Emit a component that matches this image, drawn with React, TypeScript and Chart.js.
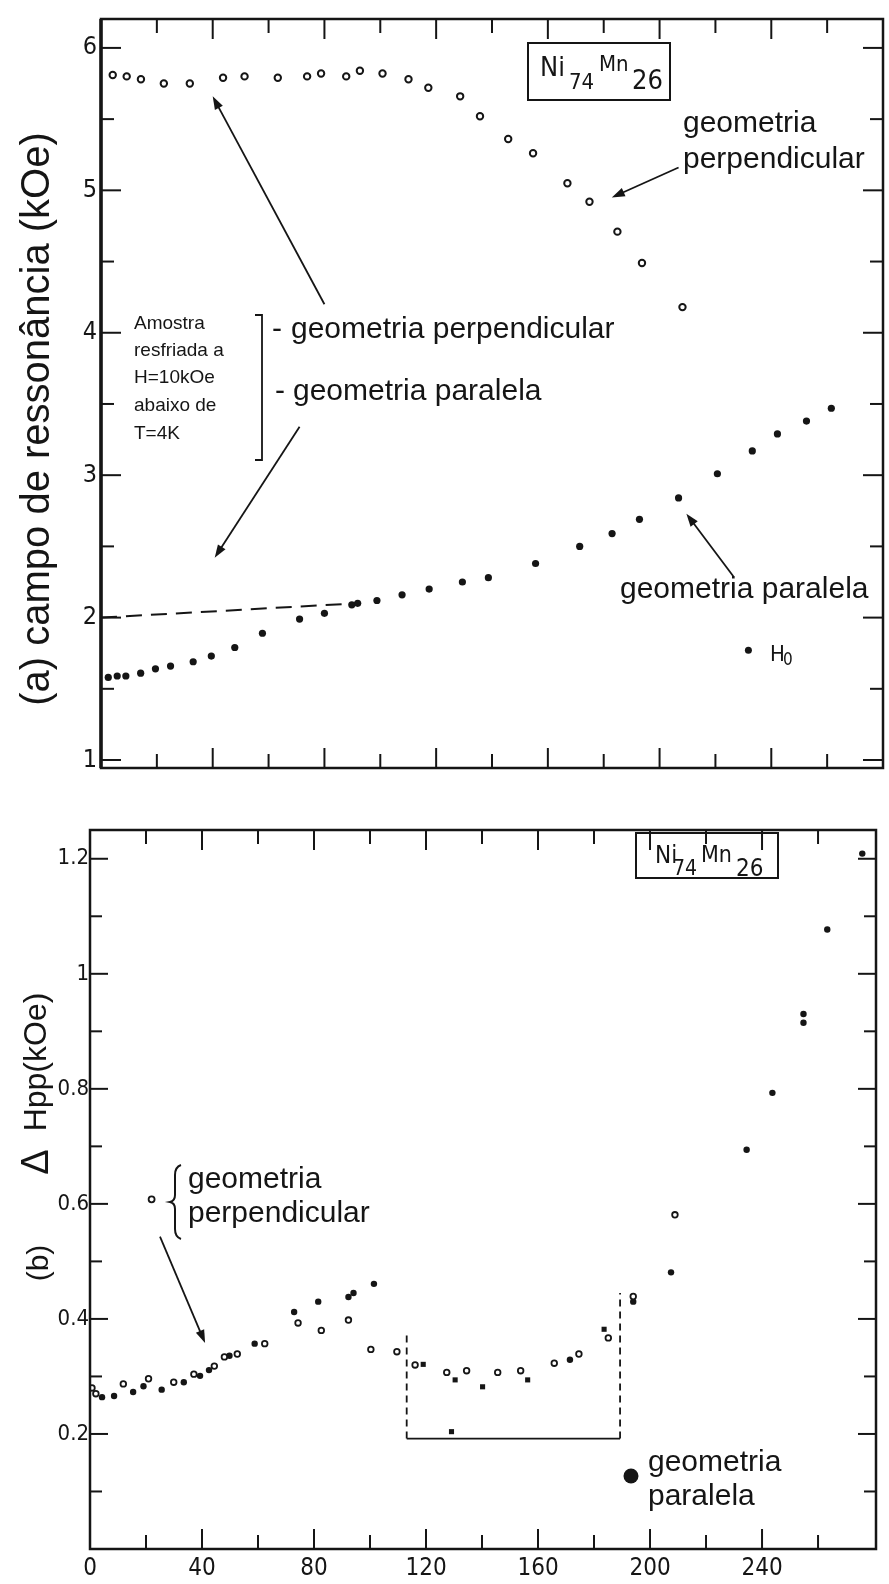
import React, { useEffect, useRef } from 'react';
import { Chart, registerables } from 'chart.js';

Chart.register(...registerables);

// ---------------- Panel (a): campo de ressonância (kOe) vs T (K) ----------------
const tempPerpA = [4.2, 9.2, 14.3, 22.5, 31.8, 43.7, 51.4, 63.3, 73.8, 78.8, 87.8, 92.7, 100.8, 110.1, 117.2, 128.6, 135.7, 145.8, 154.7, 167.0, 174.9, 184.9, 193.7, 208.2];
const campoPerpA = [5.81, 5.8, 5.78, 5.75, 5.75, 5.79, 5.8, 5.79, 5.8, 5.82, 5.8, 5.84, 5.82, 5.78, 5.72, 5.66, 5.52, 5.36, 5.26, 5.05, 4.92, 4.71, 4.49, 4.18];
const tempParA = [2.6, 5.8, 8.9, 14.2, 19.5, 24.9, 33.0, 39.5, 47.9, 57.8, 71.1, 80.0, 89.8, 91.9, 98.8, 107.8, 117.5, 129.4, 138.7, 155.6, 171.4, 183.0, 192.8, 206.8, 220.7, 233.2, 242.2, 252.6, 261.5];
const campoParA = [1.58, 1.59, 1.59, 1.61, 1.64, 1.66, 1.69, 1.73, 1.79, 1.89, 1.99, 2.03, 2.09, 2.1, 2.12, 2.16, 2.2, 2.25, 2.28, 2.38, 2.5, 2.59, 2.69, 2.84, 3.01, 3.17, 3.29, 3.38, 3.47];
const tempDashA = [0, 91.3];
const campoDashA = [2.0, 2.1];
const yLabelsA = [1, 2, 3, 4, 5, 6];
const yTickMarksA = [1, 1.5, 2, 2.5, 3, 3.5, 4, 4.5, 5, 5.5, 6];

// ---------------- Panel (b): ΔHpp (kOe) vs T (K) ----------------
const tempPerpB = [0.7, 2.1, 11.9, 20.9, 29.9, 37.1, 44.4, 48.0, 52.6, 62.4, 74.3, 82.6, 92.3, 100.3, 109.6, 116.1, 127.4, 134.5, 145.6, 153.8, 165.8, 174.6, 185.1, 194.0, 208.9];
const largPerpB = [0.28, 0.27, 0.287, 0.296, 0.29, 0.304, 0.318, 0.334, 0.339, 0.357, 0.393, 0.38, 0.398, 0.347, 0.343, 0.32, 0.307, 0.31, 0.307, 0.31, 0.323, 0.339, 0.367, 0.439, 0.581];
const tempParB = [4.3, 8.6, 15.4, 19.1, 25.6, 33.5, 39.3, 42.5, 49.8, 58.8, 72.9, 81.5, 92.3, 94.1, 101.4, 171.4, 194.0, 207.5, 234.5, 243.7, 254.8, 254.8, 263.3, 275.8];
const largParB = [0.264, 0.266, 0.273, 0.283, 0.277, 0.29, 0.301, 0.311, 0.336, 0.357, 0.412, 0.43, 0.438, 0.445, 0.461, 0.329, 0.43, 0.481, 0.694, 0.793, 0.93, 0.915, 1.077, 1.209];
const tempQuadB = [119.0, 129.1, 130.4, 140.2, 156.3, 183.6];
const largQuadB = [0.321, 0.204, 0.294, 0.282, 0.294, 0.382];
const xLabelsB = [0, 40, 80, 120, 160, 200, 240];
const yLabelsB = [0.2, 0.4, 0.6, 0.8, 1, 1.2];
const yTickMarksB = [0.1, 0.2, 0.3, 0.4, 0.5, 0.6, 0.7, 0.8, 0.9, 1.0, 1.1, 1.2];
const xTickMarks = [20, 40, 60, 80, 100, 120, 140, 160, 180, 200, 220, 240, 260];

const INK = '#151515';
const FONT = '"Liberation Sans", Arial, sans-serif';
const NARROW = '"Liberation Sans Narrow", "DejaVu Sans Condensed", sans-serif';
const LETTER = '"DejaVu Sans Condensed", "Liberation Sans Narrow", sans-serif';

const zip = (xs: number[], ys: number[]) => xs.map((x, i) => ({ x, y: ys[i] }));

function seg(ctx: CanvasRenderingContext2D, x1: number, y1: number, x2: number, y2: number) {
  ctx.beginPath();
  ctx.moveTo(x1, y1);
  ctx.lineTo(x2, y2);
  ctx.stroke();
}

function arrow(ctx: CanvasRenderingContext2D, x1: number, y1: number, x2: number, y2: number) {
  const head = 13;
  const w = 4.5;
  const a = Math.atan2(y2 - y1, x2 - x1);
  ctx.lineWidth = 1.8;
  seg(ctx, x1, y1, x2 - 6 * Math.cos(a), y2 - 6 * Math.sin(a));
  ctx.beginPath();
  ctx.moveTo(x2, y2);
  ctx.lineTo(x2 - head * Math.cos(a) + w * Math.sin(a), y2 - head * Math.sin(a) - w * Math.cos(a));
  ctx.lineTo(x2 - head * Math.cos(a) - w * Math.sin(a), y2 - head * Math.sin(a) + w * Math.cos(a));
  ctx.closePath();
  ctx.fill();
}

function text(ctx: CanvasRenderingContext2D, s: string, x: number, y: number, font: string) {
  ctx.font = font;
  ctx.fillText(s, x, y);
}

function rotText(ctx: CanvasRenderingContext2D, s: string, cx: number, cy: number, font: string) {
  ctx.save();
  ctx.translate(cx, cy);
  ctx.rotate(-Math.PI / 2);
  ctx.font = font;
  ctx.textAlign = 'center';
  ctx.textBaseline = 'middle';
  ctx.fillText(s, 0, 0);
  ctx.restore();
}

const panelAPlugin = {
  id: 'panelA',
  afterDraw(chart: any) {
    const ctx: CanvasRenderingContext2D = chart.ctx;
    const X = (v: number) => chart.scales.x.getPixelForValue(v);
    const Y = (v: number) => chart.scales.y.getPixelForValue(v);
    const { left, right, top, bottom } = chart.chartArea;
    ctx.save();
    ctx.strokeStyle = INK;
    ctx.fillStyle = INK;
    ctx.lineWidth = 2.5;
    ctx.strokeRect(left, top, right - left, bottom - top);
    ctx.lineWidth = 3.5;
    seg(ctx, left, top, left, bottom);
    ctx.lineWidth = 2;
    xTickMarks.forEach((v) => {
      const l = v % 40 === 0 ? 20 : 14;
      seg(ctx, X(v), top, X(v), top + l);
      seg(ctx, X(v), bottom, X(v), bottom - l);
    });
    yTickMarksA.forEach((v) => {
      const l = Number.isInteger(v) ? 20 : 13;
      seg(ctx, left, Y(v), left + l, Y(v));
      seg(ctx, right, Y(v), right - l, Y(v));
    });

    // axis title
    rotText(ctx, '(a) campo de ressonância (kOe)', 38, 419, `40px ${FONT}`);

    // composition box
    ctx.lineWidth = 2;
    ctx.strokeRect(528, 43, 142, 57);
    text(ctx, 'Ni', 540, 76, `27px ${LETTER}`);
    text(ctx, '74', 569, 89, `22px ${LETTER}`);
    text(ctx, 'Mn', 599, 71, `22px ${LETTER}`);
    text(ctx, '26', 632, 89, `27px ${LETTER}`);

    // annotations
    const big = `30px ${FONT}`;
    text(ctx, 'geometria', 683, 132, big);
    text(ctx, 'perpendicular', 683, 168, big);
    text(ctx, '-', 272, 338, big);
    text(ctx, 'geometria perpendicular', 291, 338, big);
    text(ctx, '-', 275, 400, big);
    text(ctx, 'geometria paralela', 293, 400, big);
    text(ctx, 'geometria paralela', 620, 598, big);

    const small = `19px ${FONT}`;
    text(ctx, 'Amostra', 134, 329, small);
    text(ctx, 'resfriada a', 134, 356, small);
    text(ctx, 'H=10kOe', 134, 383, small);
    text(ctx, 'abaixo de', 134, 411, small);
    text(ctx, 'T=4K', 134, 439, small);

    ctx.lineWidth = 1.8;
    ctx.beginPath();
    ctx.moveTo(255, 315);
    ctx.lineTo(262, 315);
    ctx.lineTo(262, 460);
    ctx.lineTo(255, 460);
    ctx.stroke();

    arrow(ctx, X(80), Y(4.2), X(40), Y(5.66));
    arrow(ctx, X(206.8), Y(5.16), X(182.9), Y(4.95));
    arrow(ctx, X(71.1), Y(3.34), X(40.7), Y(2.42));
    arrow(ctx, X(226.4), Y(2.29), X(209.6), Y(2.73));

    // H0 legend
    ctx.beginPath();
    ctx.arc(X(231.8), Y(1.77), 3.5, 0, Math.PI * 2);
    ctx.fill();
    text(ctx, 'H', 770, 661, `22px ${NARROW}`);
    text(ctx, '0', 783, 665, `17px ${NARROW}`);
    ctx.restore();
  },
};

const panelBPlugin = {
  id: 'panelB',
  afterDraw(chart: any) {
    const ctx: CanvasRenderingContext2D = chart.ctx;
    const X = (v: number) => chart.scales.x.getPixelForValue(v);
    const Y = (v: number) => chart.scales.y.getPixelForValue(v);
    const { left, right, top, bottom } = chart.chartArea;
    ctx.save();
    ctx.strokeStyle = INK;
    ctx.fillStyle = INK;
    ctx.lineWidth = 2.5;
    ctx.strokeRect(left, top, right - left, bottom - top);
    ctx.lineWidth = 2;
    xTickMarks.forEach((v) => {
      const l = v % 40 === 0 ? 20 : 14;
      seg(ctx, X(v), top, X(v), top + l);
      seg(ctx, X(v), bottom, X(v), bottom - l);
    });
    yTickMarksB.forEach((v) => {
      const l = Math.round(v * 10) % 2 === 0 ? 18 : 12;
      seg(ctx, left, Y(v), left + l, Y(v));
      seg(ctx, right, Y(v), right - l, Y(v));
    });

    // axis title
    rotText(ctx, '(b)', 40, 463, `30px ${FONT}`);
    rotText(ctx, 'Δ', 38, 362, `38px ${FONT}`);
    rotText(ctx, 'Hpp(kOe)', 37, 262, `32px ${FONT}`);

    // composition box
    ctx.lineWidth = 2;
    ctx.strokeRect(636, 33, 142, 45);
    text(ctx, 'Ni', 655, 63, `24px ${LETTER}`);
    text(ctx, '74', 673, 75, `21px ${LETTER}`);
    text(ctx, 'Mn', 701, 62, `23px ${LETTER}`);
    text(ctx, '26', 736, 76, `24px ${LETTER}`);

    const big = `30px ${FONT}`;
    // perpendicular legend
    ctx.lineWidth = 1.8;
    ctx.beginPath();
    ctx.arc(X(22.0), Y(0.608), 3, 0, Math.PI * 2);
    ctx.fillStyle = '#fff';
    ctx.fill();
    ctx.stroke();
    ctx.fillStyle = INK;
    ctx.lineWidth = 2;
    ctx.beginPath();
    ctx.moveTo(181, 365);
    ctx.quadraticCurveTo(175, 367, 175, 375);
    ctx.lineTo(175, 395);
    ctx.quadraticCurveTo(175, 401, 170, 402);
    ctx.quadraticCurveTo(175, 403, 175, 409);
    ctx.lineTo(175, 429);
    ctx.quadraticCurveTo(175, 437, 181, 439);
    ctx.stroke();
    text(ctx, 'geometria', 188, 388, big);
    text(ctx, 'perpendicular', 188, 422, big);
    arrow(ctx, X(25), Y(0.543), X(41.1), Y(0.358));

    // parallel legend
    ctx.beginPath();
    ctx.arc(X(193.2), Y(0.127), 7.5, 0, Math.PI * 2);
    ctx.fill();
    text(ctx, 'geometria', 648, 671, big);
    text(ctx, 'paralela', 648, 705, big);

    // dashed bracket
    ctx.lineWidth = 1.8;
    ctx.setLineDash([7, 5]);
    seg(ctx, X(113.1), Y(0.192), X(113.1), Y(0.375));
    seg(ctx, X(189.3), Y(0.192), X(189.3), Y(0.445));
    ctx.setLineDash([]);
    seg(ctx, X(113.1), Y(0.192), X(189.3), Y(0.192));
    ctx.restore();
  },
};

const hideGrid = { display: false, drawTicks: false };

export default function App() {
  const refA = useRef<HTMLCanvasElement>(null);
  const refB = useRef<HTMLCanvasElement>(null);

  useEffect(() => {
    const chartA = new Chart(refA.current as HTMLCanvasElement, {
      type: 'scatter',
      data: {
        datasets: [
          {
            label: 'perpendicular',
            data: zip(tempPerpA, campoPerpA),
            pointStyle: 'circle',
            pointRadius: 3.2,
            pointBorderWidth: 2,
            pointBackgroundColor: '#fff',
            pointBorderColor: INK,
          },
          {
            label: 'paralela',
            data: zip(tempParA, campoParA),
            pointStyle: 'circle',
            pointRadius: 3.6,
            pointBorderWidth: 0,
            pointBackgroundColor: INK,
            pointBorderColor: INK,
          },
          {
            label: 'extrapolação',
            data: zip(tempDashA, campoDashA),
            showLine: true,
            borderColor: INK,
            borderWidth: 2,
            borderDash: [16, 9],
            pointRadius: 0,
          },
        ],
      },
      options: {
        animation: false,
        responsive: false,
        events: [],
        layout: { padding: { left: 0, right: 4, top: 16, bottom: 32 } },
        plugins: { legend: { display: false }, tooltip: { enabled: false } },
        scales: {
          x: { type: 'linear', min: 0, max: 280, display: false },
          y: {
            type: 'linear',
            min: 0.944,
            max: 6.203,
            grid: hideGrid,
            border: { display: false },
            afterFit: (s: any) => {
              s.width = 101;
            },
            afterBuildTicks: (s: any) => {
              s.ticks = yLabelsA.map((v) => ({ value: v }));
            },
            ticks: { color: INK, padding: 4, font: { family: NARROW, size: 25 } },
          },
        },
      },
      plugins: [panelAPlugin],
    } as any);

    const chartB = new Chart(refB.current as HTMLCanvasElement, {
      type: 'scatter',
      data: {
        datasets: [
          {
            label: 'perpendicular',
            data: zip(tempPerpB, largPerpB),
            pointStyle: 'circle',
            pointRadius: 2.8,
            pointBorderWidth: 1.8,
            pointBackgroundColor: '#fff',
            pointBorderColor: INK,
          },
          {
            label: 'paralela',
            data: zip(tempParB, largParB),
            pointStyle: 'circle',
            pointRadius: 3.2,
            pointBorderWidth: 0,
            pointBackgroundColor: INK,
            pointBorderColor: INK,
          },
          {
            label: 'quadrados',
            data: zip(tempQuadB, largQuadB),
            pointStyle: 'rect',
            pointRadius: 3.6,
            pointBorderWidth: 0,
            pointBackgroundColor: INK,
            pointBorderColor: INK,
          },
        ],
      },
      options: {
        animation: false,
        responsive: false,
        events: [],
        layout: { padding: { left: 0, right: 13, top: 30, bottom: 0 } },
        plugins: { legend: { display: false }, tooltip: { enabled: false } },
        scales: {
          x: {
            type: 'linear',
            min: 0,
            max: 280.7,
            grid: hideGrid,
            border: { display: false },
            afterFit: (s: any) => {
              s.height = 35;
            },
            afterBuildTicks: (s: any) => {
              s.ticks = xLabelsB.map((v) => ({ value: v }));
            },
            ticks: { color: INK, padding: 5, maxRotation: 0, font: { family: NARROW, size: 24 } },
          },
          y: {
            type: 'linear',
            min: 0,
            max: 1.25,
            grid: hideGrid,
            border: { display: false },
            afterFit: (s: any) => {
              s.width = 90;
            },
            afterBuildTicks: (s: any) => {
              s.ticks = yLabelsB.map((v) => ({ value: v }));
            },
            ticks: {
              color: INK,
              padding: 1,
              font: { family: NARROW, size: 22 },
              callback: (v: any) => String(Number(Number(v).toFixed(1))),
            },
          },
        },
      },
      plugins: [panelBPlugin],
    } as any);

    return () => {
      chartA.destroy();
      chartB.destroy();
    };
  }, []);

  return (
    <div style={{ position: 'absolute', left: 0, top: 0, width: 889, height: 1584, background: '#fff' }}>
      <canvas ref={refA} width={889} height={800} style={{ position: 'absolute', left: 0, top: 0, width: 889, height: 800 }} />
      <canvas ref={refB} width={889} height={784} style={{ position: 'absolute', left: 0, top: 800, width: 889, height: 784 }} />
    </div>
  );
}
